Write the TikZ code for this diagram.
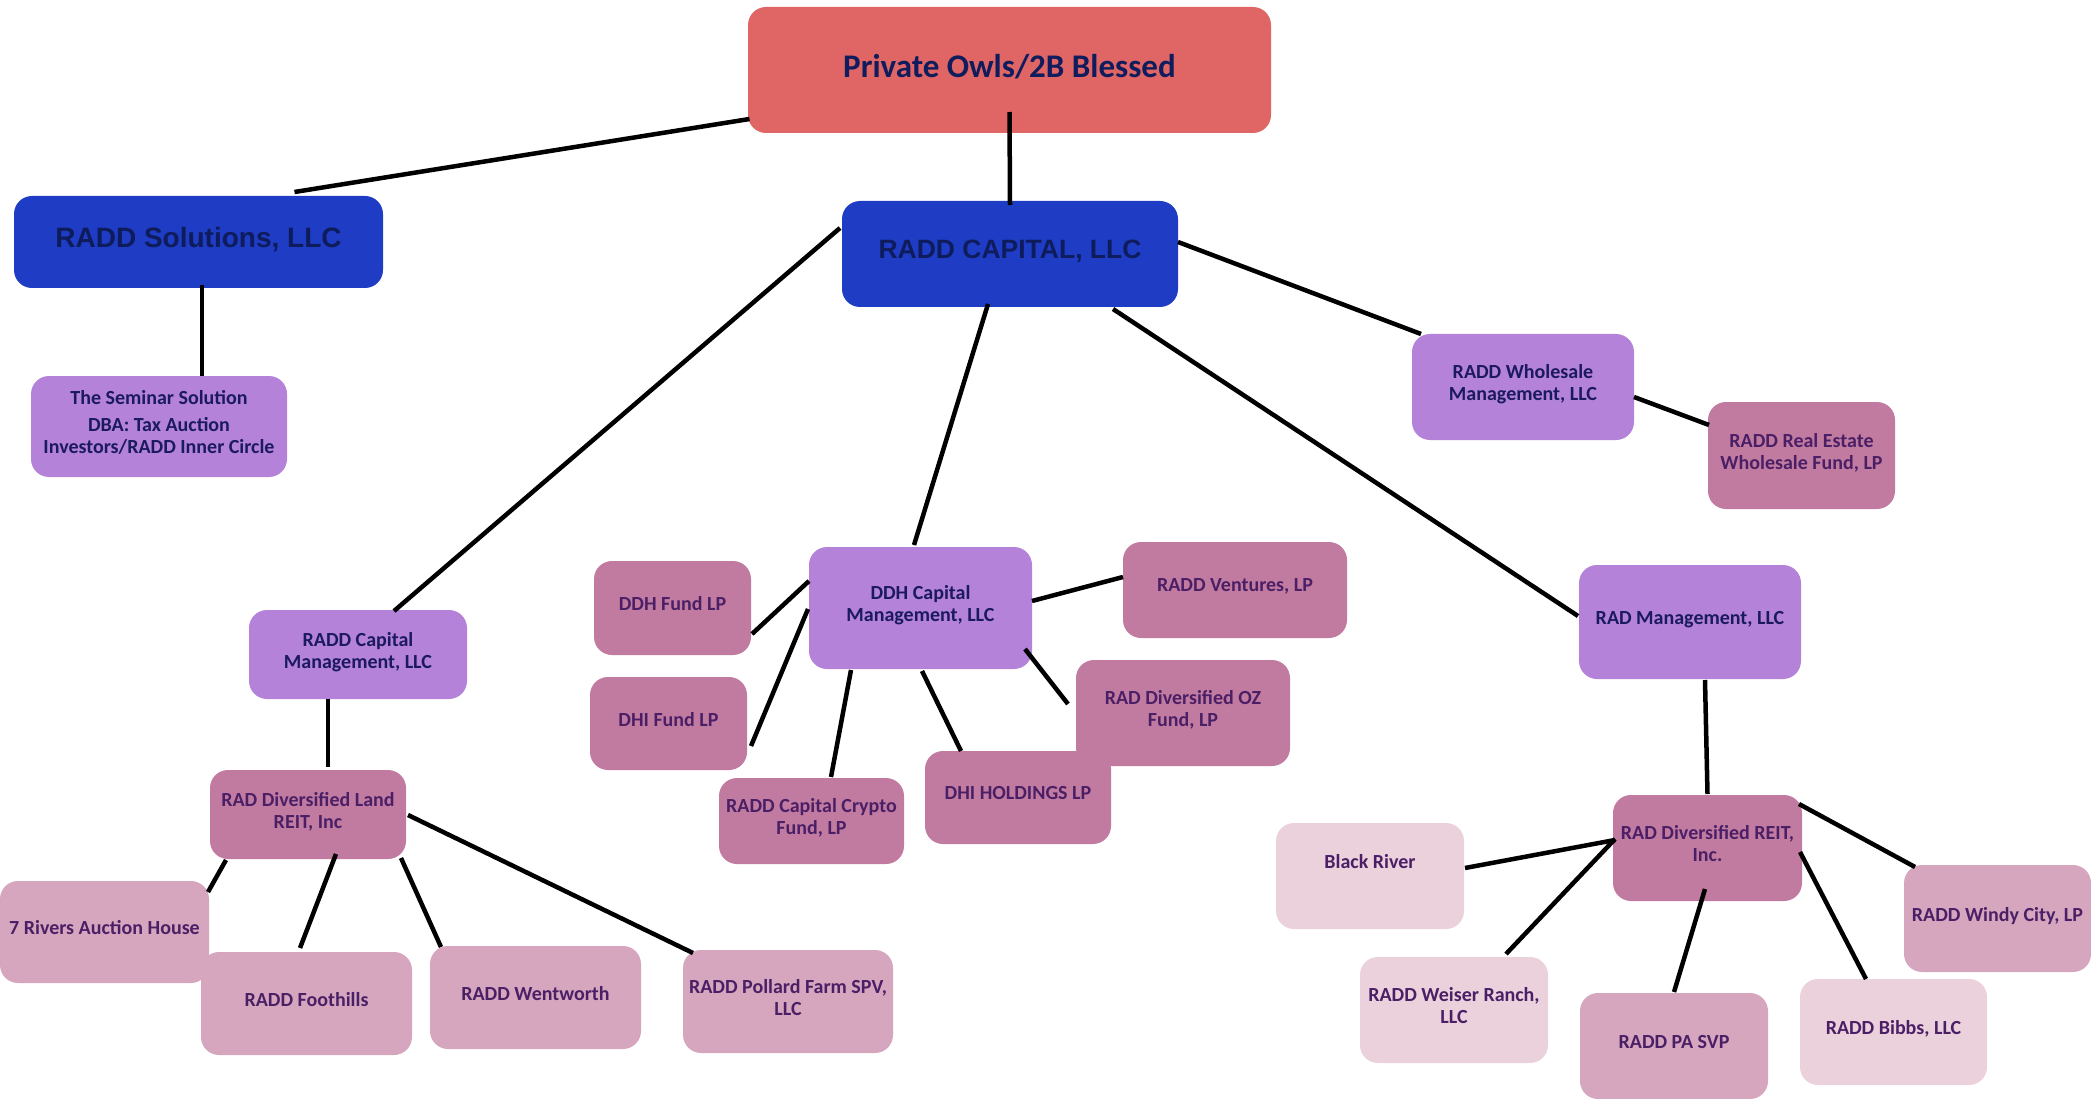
\documentclass[tikz,border=0pt]{standalone}
\usepackage{fontspec}
\setmainfont{Carlito}
\newfontfamily\arialfont{Liberation Sans}
\usetikzlibrary{positioning}
\definecolor{owlred}{HTML}{E06666}
\definecolor{capblue}{HTML}{1E3CC4}
\definecolor{capnavy}{HTML}{0E1C5C}
\definecolor{topnavy}{HTML}{101C5C}
\definecolor{mgmtpurple}{HTML}{B482D9}
\definecolor{mgmtnavy}{HTML}{1B1A5E}
\definecolor{fundmauve}{HTML}{C27BA0}
\definecolor{assetpink}{HTML}{D5A6BD}
\definecolor{palepink}{HTML}{EAD1DC}
\definecolor{plumtext}{HTML}{4B1F66}
\tikzset{
  box/.style={rounded corners=18pt, align=center, inner sep=2pt, text depth=9pt,
    font=\bfseries\fontsize{20}{22}\selectfont},
  dims/.style 2 args={minimum width=#1pt, minimum height=#2pt},
  owner/.style={box, fill=owlred, text=topnavy, font=\bfseries\fontsize{33}{36}\selectfont},
  firm/.style={box, fill=capblue, text=capnavy, font=\arialfont\bfseries\fontsize{27}{30}\selectfont},
  mgmt/.style={box, fill=mgmtpurple, text=mgmtnavy},
  fund/.style={box, fill=fundmauve, text=plumtext},
  asset/.style={box, fill=assetpink, text=plumtext},
  pale/.style={box, fill=palepink, text=plumtext},
  link/.style={line width=4.5pt}
}
\begin{document}
\begin{tikzpicture}[x=1pt,y=-1pt]
  \useasboundingbox (0,0) rectangle (2091,1099);
  \node[owner, dims={523}{126}] (top) at (1009.5,70) {Private Owls/2B Blessed};
  \node[firm, dims={369}{92}, font=\arialfont\bfseries\fontsize{28}{30}\selectfont] (sol) at (198.5,242) {RADD Solutions, LLC};
  \node[firm, dims={336}{106}, font=\arialfont\bfseries\fontsize{26.5}{30}\selectfont] (cap) at (1010,254) {RADD CAPITAL, LLC};
  \node[mgmt, dims={256}{101}] (sem) at (159,426.5) {The Seminar Solution\\[5pt]DBA: Tax Auction\\Investors/RADD Inner Circle};
  \node[mgmt, dims={222}{106}] (wsm) at (1523,387) {RADD Wholesale\\Management, LLC};
  \node[fund, dims={187}{107}] (rewf) at (1801.5,455.5) {RADD Real Estate\\Wholesale Fund, LP};
  \node[mgmt, dims={218}{89}] (rcm) at (358,654.5) {RADD Capital\\Management, LLC};
  \node[fund, dims={157}{94}] (ddhf) at (672.5,608) {DDH Fund LP};
  \node[mgmt, dims={223}{122}] (ddhc) at (920.5,608) {DDH Capital\\Management, LLC};
  \node[fund, dims={224}{96}] (ven) at (1235,590) {RADD Ventures, LP};
  \node[fund, dims={157}{93}] (dhif) at (668.5,723.5) {DHI Fund LP};
  \node[fund, dims={214}{106}] (oz) at (1183,713) {RAD Diversified OZ\\Fund, LP};
  \node[fund, dims={185}{86}] (cry) at (811.5,821) {RADD Capital Crypto\\Fund, LP};
  \node[fund, dims={186}{93}] (dhih) at (1018,797.5) {DHI HOLDINGS LP};
  \node[mgmt, dims={222}{114}] (radm) at (1690,622) {RAD Management, LLC};
  \node[fund, dims={196}{89}] (land) at (308,814.5) {RAD Diversified Land\\REIT, Inc};
  \node[asset, dims={209}{102}] (riv) at (104.5,932) {7 Rivers Auction House};
  \node[asset, dims={211}{103}] (foot) at (306.5,1003.5) {RADD Foothills};
  \node[asset, dims={211}{103}] (went) at (535.5,997.5) {RADD Wentworth};
  \node[asset, dims={210}{103}] (pol) at (788,1001.5) {RADD Pollard Farm SPV,\\LLC};
  \node[fund, dims={189}{106}] (reit) at (1707.5,848) {RAD Diversified REIT,\\Inc.};
  \node[pale, dims={188}{106}, text depth=30pt] (blk) at (1370,876) {Black River};
  \node[asset, dims={187}{107}] (wind) at (1997.5,918.5) {RADD Windy City, LP};
  \node[pale, dims={188}{106}] (weis) at (1454,1010) {RADD Weiser Ranch,\\LLC};
  \node[asset, dims={188}{106}] (pa) at (1674,1046) {RADD PA SVP};
  \node[pale, dims={187}{106}] (bib) at (1893.5,1032) {RADD Bibbs, LLC};

  \draw[link] ([shift={(-260,49)}]top.center) -- ([shift={(96,-50)}]sol.center);
  \draw[link] ([shift={(0,42)}]top.center) -- ([shift={(0,-49)}]cap.center);
  \draw[link] ([shift={(3.5,43)}]sol.center) -- ([shift={(43,-50.5)}]sem.center);
  \draw[link] ([shift={(-170,-26)}]cap.center) -- ([shift={(36,-43.5)}]rcm.center);
  \draw[link] ([shift={(-22,50)}]cap.center) -- ([shift={(-6.5,-63)}]ddhc.center);
  \draw[link] ([shift={(103,55)}]cap.center) -- ([shift={(-112,-6)}]radm.center);
  \draw[link] ([shift={(168,-12)}]cap.center) -- ([shift={(-102,-53)}]wsm.center);
  \draw[link] ([shift={(111,10)}]wsm.center) -- ([shift={(-92.5,-30.5)}]rewf.center);
  \draw[link] ([shift={(-30,44.5)}]rcm.center) -- ([shift={(20,-47.5)}]land.center);
  \draw[link] ([shift={(-111.5,-27)}]ddhc.center) -- ([shift={(79.5,26)}]ddhf.center);
  \draw[link] ([shift={(-112.5,1)}]ddhc.center) -- ([shift={(82.5,22.5)}]dhif.center);
  \draw[link] ([shift={(111.5,-7)}]ddhc.center) -- ([shift={(-112,-13)}]ven.center);
  \draw[link] ([shift={(-69.5,62)}]ddhc.center) -- ([shift={(19.5,-44)}]cry.center);
  \draw[link] ([shift={(1.5,63)}]ddhc.center) -- ([shift={(-57,-46.5)}]dhih.center);
  \draw[link] ([shift={(104.5,41)}]ddhc.center) -- ([shift={(-115,-9)}]oz.center);
  \draw[link] ([shift={(-82,45.5)}]land.center) -- ([shift={(103.5,-40)}]riv.center);
  \draw[link] ([shift={(28,39.5)}]land.center) -- ([shift={(-6.5,-55.5)}]foot.center);
  \draw[link] ([shift={(93,43.5)}]land.center) -- ([shift={(-94.5,-50.5)}]went.center);
  \draw[link] ([shift={(100,0.5)}]land.center) -- ([shift={(-95,-48.5)}]pol.center);
  \draw[link] ([shift={(15,58)}]radm.center) -- ([shift={(0,-54)}]reit.center);
  \draw[link] ([shift={(-92.5,-8)}]reit.center) -- ([shift={(95,-8)}]blk.center);
  \draw[link] ([shift={(-92.5,-9)}]reit.center) -- ([shift={(52,-56)}]weis.center);
  \draw[link] ([shift={(-2.5,41)}]reit.center) -- ([shift={(0,-54)}]pa.center);
  \draw[link] ([shift={(92.5,4)}]reit.center) -- ([shift={(-27.5,-53)}]bib.center);
  \draw[link] ([shift={(91.5,-44)}]reit.center) -- ([shift={(-82.5,-51.5)}]wind.center);
\end{tikzpicture}
\end{document}
